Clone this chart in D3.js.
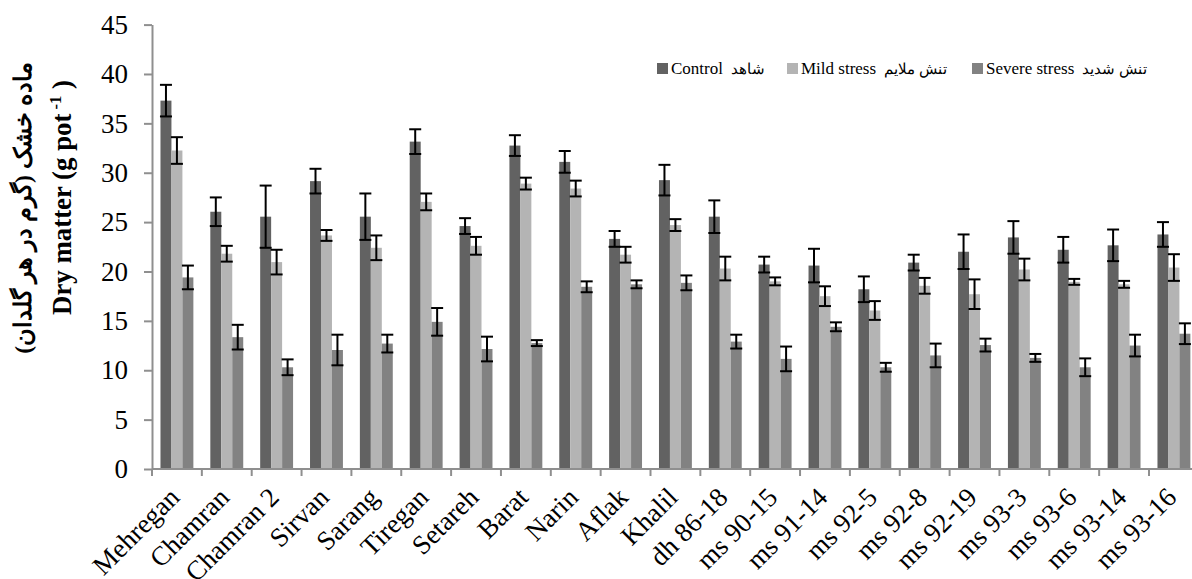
<!DOCTYPE html>
<html>
<head>
<meta charset="utf-8">
<script src="https://cdn.jsdelivr.net/npm/d3@7"></script>
<style>
  html, body { margin: 0; padding: 0; background: #fff; }
  svg { display: block; }
  text { fill: #000; }
</style>
</head>
<body>
<svg id="chart" width="1192" height="579"></svg>
<script>
// ---- data ----
const categories = ["Mehregan","Chamran","Chamran 2","Sirvan","Sarang","Tiregan","Setareh","Barat","Narin","Aflak","Khalil","dh 86-18","ms 90-15","ms 91-14","ms 92-5","ms 92-8","ms 92-19","ms 93-3","ms 93-6","ms 93-14","ms 93-16"];
const seriesEn = ["Control", "Mild stress", "Severe stress"];
const seriesFa = ["شاهد", "تنش ملایم", "تنش شدید"];
const controlValues = [37.3, 26.05, 25.55, 29.15, 25.55, 33.15, 24.6, 32.75, 31.1, 23.3, 29.25, 25.55, 20.7, 20.6, 18.2, 20.9, 22.0, 23.45, 22.2, 22.65, 23.75];
const controlErrors = [1.6, 1.45, 3.15, 1.25, 2.35, 1.25, 0.8, 1.05, 1.1, 0.8, 1.55, 1.65, 0.8, 1.7, 1.3, 0.8, 1.75, 1.65, 1.3, 1.6, 1.25];
const mildValues = [32.25, 21.8, 20.95, 23.65, 22.4, 27.05, 22.6, 28.9, 28.4, 21.7, 24.7, 20.3, 19.0, 17.5, 16.05, 18.55, 17.7, 20.2, 18.95, 18.7, 20.4];
const mildErrors = [1.35, 0.8, 1.25, 0.55, 1.25, 0.85, 0.9, 0.6, 0.8, 0.8, 0.6, 1.2, 0.4, 1.0, 0.95, 0.8, 1.5, 1.1, 0.3, 0.35, 1.35];
const severeValues = [19.4, 13.35, 10.3, 12.05, 12.7, 14.9, 12.15, 12.75, 18.45, 18.7, 18.85, 12.9, 11.15, 14.4, 10.3, 11.5, 12.55, 11.25, 10.3, 12.5, 13.7];
const severeErrors = [1.2, 1.25, 0.8, 1.55, 0.9, 1.4, 1.25, 0.3, 0.55, 0.4, 0.75, 0.7, 1.25, 0.45, 0.45, 1.2, 0.65, 0.4, 0.9, 1.1, 1.05];
const yTicks = [0, 5, 10, 15, 20, 25, 30, 35, 40, 45];
const yTitleFa = "ماده خشک (گرم در هر گلدان)";
const yTitleEn = "Dry matter (g pot";
const seriesColors = ["#626262", "#b4b4b4", "#828282"];

// ---- font selection (Times-like serif) ----
const ctx = document.createElement("canvas").getContext("2d");
const probe = "Mehregan Chamran 0123456789 abcdefghijklmnopqrstuvwxyz";
function widthOf(font) { ctx.font = font; return ctx.measureText(probe).width; }
function hasFont(f) {
  const a = widthOf("40px monospace"), b = widthOf(`40px "${f}", monospace`);
  const c = widthOf("40px sans-serif"), d = widthOf(`40px "${f}", sans-serif`);
  return a !== b || c !== d;
}
const candidates = ["Liberation Serif", "Times New Roman", "Tinos", "Times", "Nimbus Roman", "FreeSerif", "Noto Serif", "DejaVu Serif"];
const chosen = candidates.find(hasFont) || "serif";
const serif = `"${chosen}", serif`;
ctx.font = `100px ${serif}`;
const fScale = 797 / ctx.measureText("Mehregan Chamran").width; // Times-Roman metric = 7.97em

// ---- layout ----
const svg = d3.select("#chart");
const mLeft = 152, mBottom = 469, mTop = 24.6;
const stepW = 49.85;
const mRight = mLeft + stepW * categories.length;

const x = d3.scaleBand().domain(categories).range([mLeft, mRight]).paddingInner(0.34).paddingOuter(0.17);
const xs = d3.scaleBand().domain(d3.range(3)).range([0, x.bandwidth()]);
const y = d3.scaleLinear().domain([0, 45]).range([mBottom, mTop]);

const series = [
  {values: controlValues, errors: controlErrors},
  {values: mildValues, errors: mildErrors},
  {values: severeValues, errors: severeErrors}
];

// bars
series.forEach((s, si) => {
  const g = svg.append("g");
  g.selectAll("rect").data(categories).join("rect")
    .attr("x", (c) => x(c) + xs(si))
    .attr("width", xs.bandwidth())
    .attr("y", (c, i) => y(s.values[i]))
    .attr("height", (c, i) => y(0) - y(s.values[i]))
    .attr("fill", seriesColors[si]);
});

// error bars
series.forEach((s, si) => {
  const g = svg.append("g").attr("stroke", "#000").attr("stroke-width", 2);
  categories.forEach((c, i) => {
    const cx = x(c) + xs(si) + xs.bandwidth() / 2;
    const hi = y(s.values[i] + s.errors[i]);
    const lo = y(s.values[i] - s.errors[i]);
    const hw = 6;
    g.append("line").attr("x1", cx).attr("x2", cx).attr("y1", hi).attr("y2", lo);
    g.append("line").attr("x1", cx - hw).attr("x2", cx + hw).attr("y1", hi).attr("y2", hi);
    g.append("line").attr("x1", cx - hw).attr("x2", cx + hw).attr("y1", lo).attr("y2", lo);
  });
});

// y axis
const axisColor = "#8f8f8f";
const yAxis = svg.append("g").attr("transform", `translate(${mLeft},0)`)
  .call(d3.axisLeft(y).tickValues(yTicks).tickSize(8).tickPadding(16).tickSizeOuter(0));
yAxis.attr("font-family", serif);
yAxis.select(".domain").attr("stroke", axisColor).attr("stroke-width", 2);
yAxis.selectAll(".tick line").attr("stroke", axisColor).attr("stroke-width", 2);
yAxis.selectAll(".tick text").attr("font-size", 27 * fScale).style("font-family", serif).attr("fill", "#000");

// x axis
const xg = svg.append("g");
xg.append("line").attr("x1", mLeft).attr("x2", mRight).attr("y1", mBottom).attr("y2", mBottom)
  .attr("stroke", axisColor).attr("stroke-width", 2);
const boundaries = categories.map(c => x(c) - x.step() * x.paddingInner() / 2);
xg.selectAll("line.tk").data(boundaries).join("line").attr("class", "tk")
  .attr("x1", d => d).attr("x2", d => d).attr("y1", mBottom).attr("y2", mBottom + 7)
  .attr("stroke", axisColor).attr("stroke-width", 2);
xg.selectAll("text").data(categories).join("text")
  .attr("text-anchor", "end")
  .attr("font-size", 27 * fScale)
  .style("font-family", serif)
  .attr("transform", c => `translate(${x(c) + x.bandwidth() / 2 + 4},${mBottom + 30}) rotate(-45)`)
  .text(c => c);

// fit a text element's font size to a target length
function fitText(sel, base, target) {
  const len = sel.node().getComputedTextLength();
  const k = target / len;
  sel.attr("font-size", base * k);
  sel.selectAll("tspan").each(function () {
    const t = d3.select(this);
    if (t.attr("font-size")) t.attr("font-size", +t.attr("font-size") * k);
    if (t.attr("dy")) t.attr("dy", +t.attr("dy") * k);
  });
}

// y title (English)
const tEn = svg.append("text")
  .attr("transform", "translate(71,197.5) rotate(-90)")
  .attr("text-anchor", "middle")
  .attr("font-size", 26).attr("font-weight", "bold")
  .style("font-family", serif);
tEn.append("tspan").text(yTitleEn);
tEn.append("tspan").attr("font-size", 16).attr("dy", -10).text(" -1");
tEn.append("tspan").attr("dy", 10).text(" )");
fitText(tEn, 26, 235);

// y title (Persian)
const tFa = svg.append("text")
  .attr("transform", "translate(31,208) rotate(-90)")
  .attr("text-anchor", "middle")
  .attr("direction", "rtl")
  .attr("font-size", 22).attr("font-weight", "bold")
  .style("font-family", serif)
  .text(yTitleFa);
fitText(tFa, 22, 290);

// legend
const legendX = [657, 787, 972];
const lg = svg.append("g");
seriesEn.forEach((n, i) => {
  lg.append("rect").attr("x", legendX[i]).attr("y", 63).attr("width", 11).attr("height", 11).attr("fill", seriesColors[i]);
  const t = lg.append("text").attr("x", legendX[i] + 14).attr("y", 74).attr("font-size", 17 * fScale)
    .style("font-family", serif).text(n);
  const endX = legendX[i] + 14 + t.node().getComputedTextLength();
  lg.append("text").attr("x", endX + 8).attr("y", 74).attr("font-size", 15)
    .attr("direction", "ltr").style("font-family", serif).text(seriesFa[i]);
});
</script>
</body>
</html>
